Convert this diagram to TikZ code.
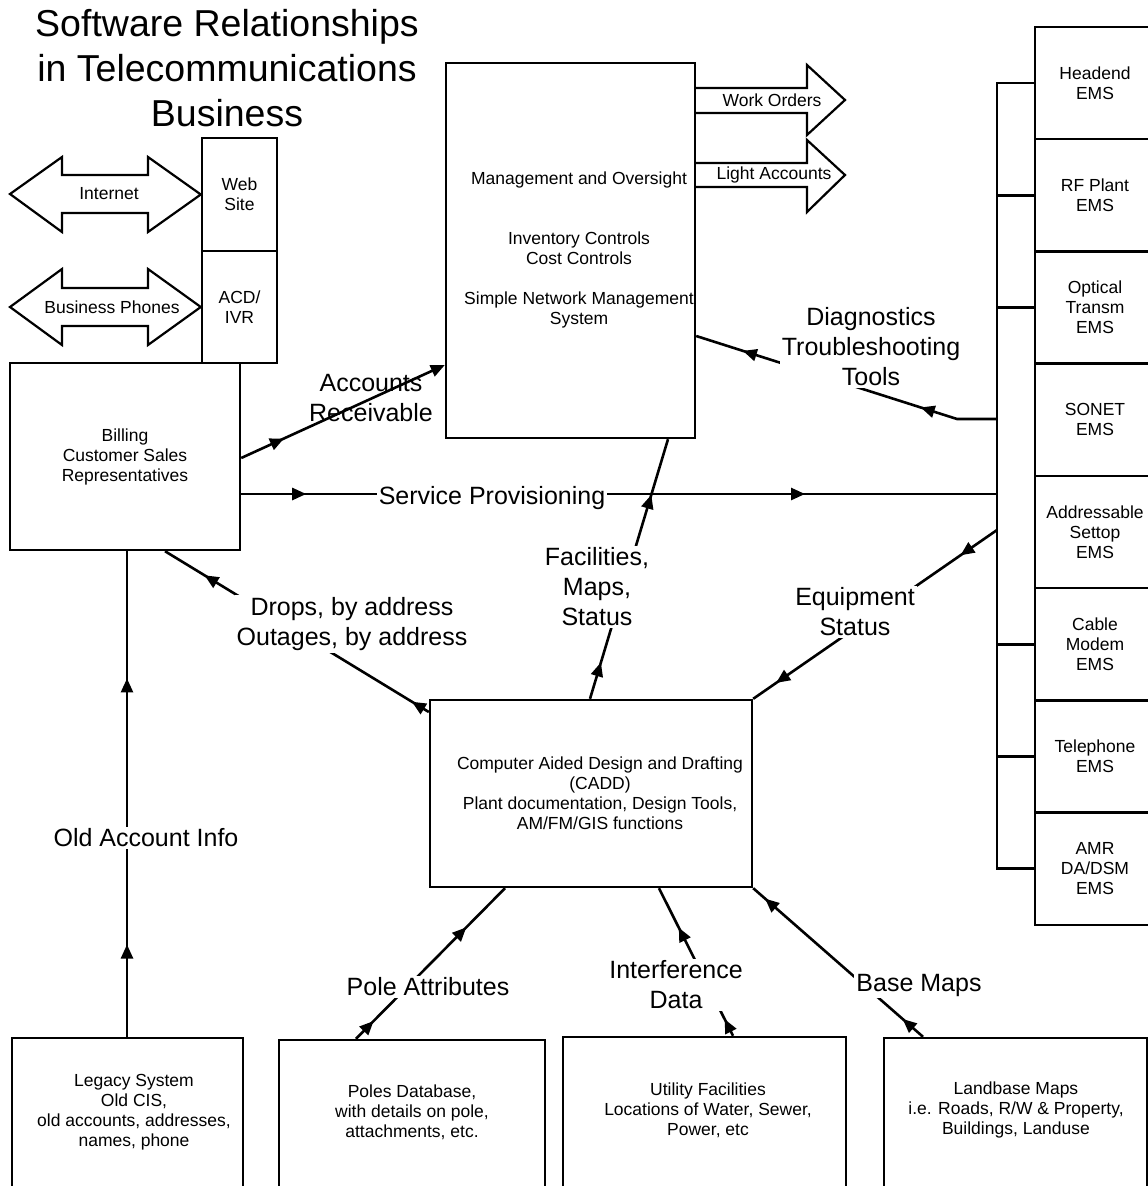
\documentclass[tikz,border=0pt]{standalone}
\usepackage{fontspec}
\setmainfont{Liberation Sans}
\usetikzlibrary{arrows.meta,decorations.markings}

% filled head placed along a connector
\newcommand\flowtip{\arrow{Triangle[length=14pt,width=12pt]}}

\begin{document}
\begin{tikzpicture}[x=1pt,y=-1pt,
  box/.style={draw, line width=2.4pt, rectangle, inner sep=0pt},
  small/.style={font=\fontsize{17.5}{20}\selectfont, align=center, inner sep=1pt},
  big/.style={font=\fontsize{25}{30}\selectfont, align=center, inner sep=2pt},
  gap/.style={big, fill=white},
  link/.style={line width=2.6pt},
  oneflow/.style={link, postaction={decorate},
    decoration={markings, mark=at position #1 with {\flowtip}}},
  twoflow/.style 2 args={link, postaction={decorate},
    decoration={markings, mark=at position #1 with {\flowtip},
                          mark=at position #2 with {\flowtip}}},
  fatarrow/.style={draw, line width=2.2pt, line join=miter},
  ems/.style={box, small, minimum width=120pt, minimum height=112.25pt},
]
\useasboundingbox (0,0) rectangle (1148,1186);

% ---------- title ----------
\node[font=\fontsize{37.5}{45}\selectfont, align=center] (title) at (227,68)
  {Software Relationships\\in Telecommunications\\Business};

% ---------- boxes ----------
\node[box, small, minimum width=75pt, minimum height=113pt] (web) at (239.5,194.5) {Web\\Site};
\node[box, small, minimum width=75pt, minimum height=112pt] (acd) at (239.5,307) {ACD/\\IVR};
\node[box, small, minimum width=230pt, minimum height=187pt] (billing) at (125,456.5)
  {Billing\\Customer Sales\\Representatives};
\node[box, minimum width=249pt, minimum height=375pt] (mgmt) at (570.5,250.5) {};
\node[small] (mgmttext) at (579,250)
  {Management and Oversight\\[40pt]Inventory Controls\\Cost Controls\\[20pt]Simple Network Management\\System};
\node[box, minimum width=322pt, minimum height=187pt] (cadd) at (591,793.5) {};
\node[small] (caddtext) at (600,793)
  {Computer Aided Design and Drafting\\(CADD)\\Plant documentation, Design Tools,\\AM/FM/GIS functions};

% element management systems
\node[ems] (headend)  at (1095,83)      {Headend\\EMS};
\node[ems] (rf)       at (1095,195.25) {RF Plant\\EMS};
\node[ems] (optical)  at (1095,307.5)  {Optical\\Transm\\EMS};
\node[ems] (sonet)    at (1095,419.75) {SONET\\EMS};
\node[ems] (addr)     at (1095,532)    {Addressable\\Settop\\EMS};
\node[ems] (cable)    at (1095,644.25) {Cable\\Modem\\EMS};
\node[ems] (tel)      at (1095,756.5)  {Telephone\\EMS};
\node[ems] (amr)      at (1095,868.75) {AMR\\DA/DSM\\EMS};

% data sources
\node[box, minimum width=231pt, minimum height=157pt] (legacy)   at (127.5,1116.5) {};
\node[box, minimum width=266pt, minimum height=155pt] (poles)    at (412,1117.5) {};
\node[box, minimum width=283pt, minimum height=158pt] (utility)  at (704.5,1116) {};
\node[box, minimum width=263pt, minimum height=157pt] (landbase) at (1015.5,1116.5) {};
\node[small] (legacytext) at (134,1112)
  {Legacy System\\Old CIS,\\old accounts, addresses,\\names, phone};
\node[small] (polestext) at (412,1112)
  {Poles Database,\\with details on pole,\\attachments, etc.};
\node[small] (utilitytext) at (708,1110)
  {Utility Facilities\\Locations of Water, Sewer,\\Power, etc};
\node[small] (landbasetext) at (1016,1110)
  {Landbase Maps\\i.e. Roads, R/W \& Property,\\Buildings, Landuse};

% ---------- double arrows into the call centre ----------
\draw[fatarrow] (10,194) -- (62,157) -- (62,175) -- (148,175) -- (148,157) -- (web.west)
  -- (148,232) -- (148,213) -- (62,213) -- (62,232) -- cycle;
\node[small] (internet) at (109,194) {Internet};
\draw[fatarrow] (10,307) -- (62,269) -- (62,288) -- (148,288) -- (148,269) -- (acd.west)
  -- (148,345) -- (148,326) -- (62,326) -- (62,345) -- cycle;
\node[small] (phones) at (112,307) {Business Phones};

% ---------- outputs of management ----------
\draw[fatarrow] (mgmt.east |- 0,88) -- (807,88) -- (807,65) -- (845,100)
  -- (807,135) -- (807,113) -- (mgmt.east |- 0,113);
\node[small] (workorders) at (772,100) {Work Orders};
\draw[fatarrow] (mgmt.east |- 0,163) -- (807,163) -- (807,140) -- (845,175)
  -- (807,212) -- (807,187) -- (mgmt.east |- 0,187);
\node[small] (lightacc) at (774,175) {Light Accounts};

% ---------- EMS bus ----------
\coordinate (bustop) at (997,83);
\draw[link] (headend.west) -- (headend.west -| bustop) -- (amr.west -| bustop) -- (amr.west);
\foreach \n in {rf, optical, cable, tel}
  \draw[link] (\n.west) -- (\n.west -| bustop);

% ---------- connectors ----------
\draw[oneflow=0.21, -{Triangle[length=14pt,width=12pt]}]
  (billing.east |- 0,458) -- (mgmt.west |- 0,365);
\draw[twoflow={0.086}{0.746}] (billing.east |- 0,494) -- (bustop |- 0,494);
\draw[twoflow={0.14}{0.786}] (cadd.north -| 590,0) -- (mgmt.south -| 668,0);
\draw[twoflow={0.064}{0.85}] (cadd.west |- 0,712) -- (billing.south -| 165,0);
\draw[twoflow={0.15}{0.906}] (bustop |- 0,530) -- (cadd.north east);
\coordinate (diagbend) at (957,419);
\draw[twoflow={0.249}{0.844}] (bustop |- 0,419) -- (diagbend) -- (mgmt.east |- 0,336);
\draw[twoflow={0.19}{0.738}] (legacy.north -| 127,0) -- (billing.south -| 127,0);
\draw[twoflow={0.118}{0.74}] (poles.north -| 356,0) -- (cadd.south -| 505,0);
\draw[twoflow={0.113}{0.733}] (utility.north -| 733,0) -- (cadd.south -| 659,0);
\draw[twoflow={0.12}{0.93}] (landbase.north -| 923,0) -- (cadd.south east);

% ---------- connector labels ----------
\node[big] (arlabel) at (371,398) {Accounts\\Receivable};
\node[gap] (svclabel) at (492,498) {Service Provisioning};
\node[gap] (diaglabel) at (871,347) {Diagnostics\\Troubleshooting\\Tools};
\node[gap] (faclabel) at (597,587) {Facilities,\\Maps,\\Status};
\node[gap] (dropslabel) at (352,624) {Drops, by address\\Outages, by address};
\node[gap] (equiplabel) at (855,612) {Equipment\\Status};
\node[gap] (oldlabel) at (146,838) {Old Account Info};
\node[gap] (polelabel) at (428,987) {Pole Attributes};
\node[gap] (interlabel) at (676,985) {Interference\\Data};
\node[gap] (baselabel) at (919,985) {Base Maps};
\end{tikzpicture}
\end{document}
